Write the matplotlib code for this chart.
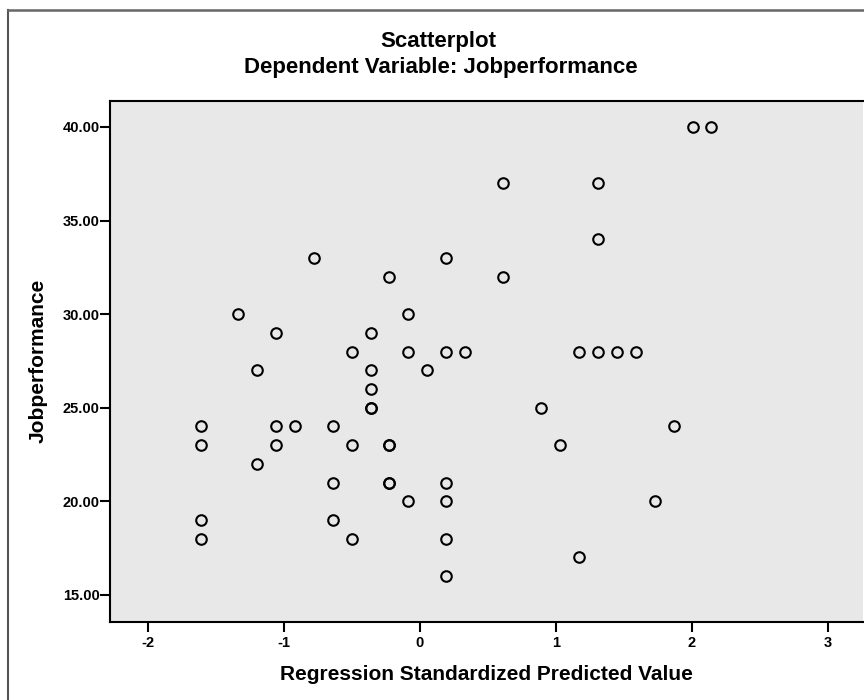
import matplotlib
matplotlib.use("Agg")
import matplotlib.pyplot as plt
from matplotlib.lines import Line2D
from matplotlib.ticker import FormatStrFormatter

# standardized predicted value vs. jobperformance
pred_value = [
    2.004, 2.142,
    0.613, 1.309,
    1.309,
    -0.777, 0.196,
    -0.224, 0.613,
    -1.334, -0.084,
    -1.057, -0.360,
    -0.500, -0.084, 0.196, 0.335, 1.169, 1.309, 1.449, 1.587,
    -1.194, -0.360, 0.056,
    -0.360,
    -0.360, -0.360, 0.890,
    -1.610, -1.057, -0.917, -0.640, 1.865,
    -1.610, -1.057, -0.500, -0.224, -0.224, 1.029,
    -1.194,
    -0.640, -0.224, -0.224, 0.196,
    -0.084, 0.196, 1.725,
    -1.610, -0.640,
    -1.610, -0.500, 0.196,
    1.169,
    0.196,
]
jobperf = [
    40, 40,
    37, 37,
    34,
    33, 33,
    32, 32,
    30, 30,
    29, 29,
    28, 28, 28, 28, 28, 28, 28, 28,
    27, 27, 27,
    26,
    25, 25, 25,
    24, 24, 24, 24, 24,
    23, 23, 23, 23, 23, 23,
    22,
    21, 21, 21, 21,
    20, 20, 20,
    19, 19,
    18, 18, 18,
    17,
    16,
]

x_ticks = [-2, -1, 0, 1, 2, 3]
y_ticks = [15, 20, 25, 30, 35, 40]


def main():
    plt.rcParams['font.family'] = ['Liberation Sans', 'DejaVu Sans']
    plt.rcParams['font.weight'] = 'bold'
    plt.rcParams['axes.unicode_minus'] = False

    fig = plt.figure(figsize=(8.64, 7.0), dpi=100)
    ax = fig.add_axes([110/864, 1 - 621.7/700, 753/864, 521/700])
    ax.set_facecolor('#e8e8e8')

    ax.plot(pred_value, jobperf, linestyle='none', marker='o', markersize=7.6,
            markerfacecolor='none', markeredgecolor='black', markeredgewidth=1.5)

    ax.set_xlim(-2.277, 3.257)
    ax.set_ylim(13.57, 41.4)
    ax.set_xticks(x_ticks)
    ax.set_yticks(y_ticks)
    ax.yaxis.set_major_formatter(FormatStrFormatter('%.2f'))

    ax.tick_params(direction='out', length=7, width=1.5, labelsize=10.5, colors='black')
    ax.tick_params(axis='y', pad=0.5)
    ax.tick_params(axis='x', pad=3)

    for side in ['left', 'bottom', 'top']:
        ax.spines[side].set_linewidth(1.5)
        ax.spines[side].set_color('black')
    ax.spines['right'].set_visible(False)

    ax.set_xlabel('Regression Standardized Predicted Value', fontsize=15, fontweight='bold')
    ax.xaxis.label.set_verticalalignment('center')
    ax.xaxis.set_label_coords(0.5, (621.7 - 675) / 521)
    ax.set_ylabel('Jobperformance', fontsize=15, fontweight='bold')
    ax.yaxis.label.set_verticalalignment('center')
    ax.yaxis.set_label_coords((38 - 110) / 753, 0.5)

    fig.text(438/864, 1 - 42/700, 'Scatterplot', ha='center', va='center',
             fontsize=16, fontweight='bold')
    fig.text(441/864, 1 - 68/700, 'Dependent Variable: Jobperformance', ha='center',
             va='center', fontsize=16, fontweight='bold')

    # outer frame of the output viewer
    fig.add_artist(Line2D([8/864, 8/864], [0, 1 - 10/700], transform=fig.transFigure,
                          color='#555555', linewidth=1.5))
    fig.add_artist(Line2D([8/864, 1], [1 - 10/700, 1 - 10/700], transform=fig.transFigure,
                          color='#666666', linewidth=1.8))

    fig.savefig('out.png', dpi=100)


if __name__ == "__main__":
    main()
